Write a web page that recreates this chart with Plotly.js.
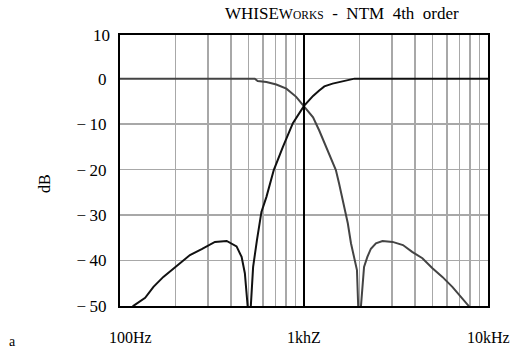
<!DOCTYPE html>
<html><head><meta charset="utf-8">
<script src="https://cdn.plot.ly/plotly-3.0.1.min.js"></script>
<style>body{margin:0;background:#fff}#chart{width:518px;height:350px}</style>
</head><body><div id="chart"></div>
<script>
// High-pass (black) response
const hpFreq = [100, 118, 137, 152, 172, 200, 240, 278, 328, 380, 430, 458, 477, 494, 504, 514, 529, 555, 587, 625, 652, 685, 768, 870, 1000, 1120, 1210, 1290, 1430, 1620, 1840, 1880, 10000];
const hpDb   = [-56, -50, -48.2, -45.8, -43.6, -41.4, -38.8, -37.5, -35.9, -35.7, -36.9, -39.2, -42.8, -50, -60, -50, -41.4, -35.5, -29.3, -26.0, -23.0, -20.1, -15.0, -9.8, -6.0, -3.8, -2.6, -1.7, -1.1, -0.6, -0.2, 0, 0];
// Low-pass (dark grey) response
const lpFreq = [100, 540, 560, 625, 707, 802, 907, 1000, 1020, 1120, 1210, 1320, 1430, 1490, 1550, 1640, 1730, 1800, 1880, 1940, 1970, 2000, 2040, 2120, 2210, 2310, 2460, 2670, 3030, 3450, 3870, 4400, 4990, 5650, 6400, 7270, 7860, 8500];
const lpDb   = [0, 0, -0.5, -0.75, -1.3, -2.2, -4.0, -6.1, -6.4, -8.5, -11.4, -15.1, -18.7, -20.1, -23.0, -27.4, -31.8, -36.2, -39.9, -42.1, -50, -60, -50, -41.4, -39.2, -37.4, -36.2, -35.7, -35.9, -36.6, -38.1, -39.5, -41.7, -43.6, -45.8, -48.4, -50, -52];

const gridFreqs = [100,200,300,400,500,600,700,800,900,1000,2000,3000,4000,5000,6000,7000,8000,9000,10000];
const xLabelFreqs = [100, 1000, 10000];
const xLabelTexts = ['100Hz', '1khZ', '10kHz'];
const yTickVals = [0, -10, -20, -30, -40, -50];
const yTickTexts = ['0', '\u2212\u200910', '\u2212\u200920', '\u2212\u200930', '\u2212\u200940', '\u2212\u200950'];
const yTopLabel = '10';
const crossoverFreq = 1000;
const titleText = 'WHISE<span style="font-size:15px">W</span><span style="font-size:11.5px">ORKS</span>  -  NTM  4th  order';

const FONT = '"Liberation Serif", "DejaVu Serif", serif';

const traces = [
  {x: lpFreq, y: lpDb, type: 'scatter', mode: 'lines', line: {color: '#444', width: 2}, hoverinfo: 'skip'},
  {x: hpFreq, y: hpDb, type: 'scatter', mode: 'lines', line: {color: '#111', width: 2}, hoverinfo: 'skip'}
];

const xLabelShift = [10, 0, 0];
const annotations = xLabelFreqs.map((f, i) => ({
  x: Math.log10(f), xref: 'x', y: -0.118, yref: 'paper', text: xLabelTexts[i],
  showarrow: false, xanchor: 'center', yanchor: 'middle', xshift: xLabelShift[i],
  font: {family: FONT, size: 16, color: '#000'}
}));
annotations.push({x: 0, xref: 'paper', xshift: -8, y: 1, yref: 'paper', text: yTopLabel, showarrow: false,
  xanchor: 'right', yanchor: 'middle', font: {family: FONT, size: 17, color: '#000'}});
annotations.push({x: -0.204, xref: 'paper', y: 0.454, yref: 'paper', text: 'dB', textangle: -90, showarrow: false,
  xanchor: 'center', yanchor: 'middle', font: {family: FONT, size: 16, color: '#000'}});
annotations.push({x: -0.293, xref: 'paper', y: -0.13, yref: 'paper', text: 'a', showarrow: false,
  xanchor: 'center', yanchor: 'middle', font: {family: FONT, size: 14, color: '#000'}});

const layout = {
  width: 518, height: 350,
  margin: {l: 120, r: 30, t: 35, b: 44},
  paper_bgcolor: '#fff', plot_bgcolor: '#fff',
  showlegend: false,
  font: {family: FONT, size: 16, color: '#000'},
  title: {text: titleText, x: 0.66, xref: 'container', xanchor: 'center', y: 0.962, yref: 'container', yanchor: 'middle',
    font: {family: FONT, size: 17, color: '#000'}},
  xaxis: {type: 'log', range: [2, 4], tickvals: gridFreqs, ticktext: gridFreqs.map(() => ''),
    showgrid: true, gridcolor: '#a8a8a8', gridwidth: 1.5, zeroline: false,
    showline: true, mirror: true, linecolor: '#000', linewidth: 2, ticks: '', fixedrange: true},
  yaxis: {range: [-50, 9.6], tickvals: yTickVals, ticktext: yTickTexts,
    showgrid: true, gridcolor: '#a8a8a8', gridwidth: 1.5, zeroline: false,
    showline: true, mirror: true, linecolor: '#000', linewidth: 2, ticks: '', ticklabelstandoff: 8,
    tickfont: {family: FONT, size: 17, color: '#000'}, fixedrange: true},
  shapes: [{type: 'line', xref: 'x', x0: crossoverFreq, x1: crossoverFreq, yref: 'paper', y0: 0, y1: 1,
    line: {color: '#000', width: 2}, layer: 'above'}],
  annotations: annotations
};

Plotly.newPlot('chart', traces, layout, {displayModeBar: false, staticPlot: true});
</script>
</body></html>
